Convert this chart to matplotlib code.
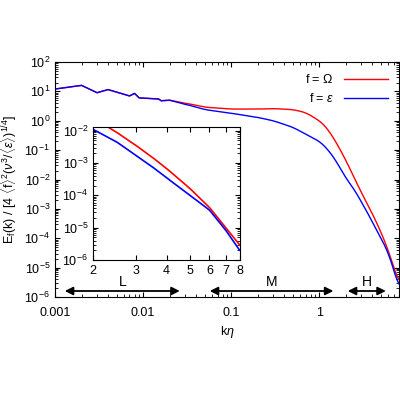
import numpy as np
import matplotlib
matplotlib.use("Agg")
import matplotlib.pyplot as plt

plt.rcParams['font.family'] = ['Liberation Sans', 'DejaVu Sans']
plt.rcParams['mathtext.fontset'] = 'custom'
plt.rcParams['mathtext.rm'] = 'Liberation Sans'
plt.rcParams['mathtext.it'] = 'Liberation Sans:italic'

# main spectrum
k_main = [0.001, 0.002, 0.003, 0.004, 0.007, 0.008, 0.009, 0.015, 0.016, 0.02, 0.03,
          0.05, 0.1, 0.2, 0.3, 0.5, 0.7, 1.0, 1.2, 1.5,
          2.0, 2.5, 3.0, 3.5, 4.0, 4.5, 5.0, 6.0, 7.0, 8.0]
e_omega = [12, 16, 9, 11.5, 7, 8.5, 6, 5.5, 4.8, 5.0, 4.0,
           2.9, 2.5, 2.5, 2.6, 2.4, 1.9, 1.0, 0.6, 0.22,
           4.5e-2, 1.1e-2, 3.5e-3, 1.5e-3, 6.8e-4, 3.2e-4, 1.6e-4, 4.2e-5, 1.0e-5, 2.8e-6]
e_eps = [12, 16, 9, 11.5, 7, 8.5, 6, 5.5, 4.8, 5.0, 3.7,
         2.4, 1.8, 1.3, 1.0, 0.6, 0.35, 0.2, 0.12, 0.05,
         1.1e-2, 4.5e-3, 1.7e-3, 7.6e-4, 3.5e-4, 1.8e-4, 1.0e-4, 3.5e-5, 8.3e-6, 1.9e-6]

# inset (2 < k eta < 8)
k_in = [2, 2.5, 3, 3.5, 4, 4.5, 5, 6, 7, 8]
in_omega = [2.5e-2, 8.9e-3, 3.5e-3, 1.5e-3, 6.8e-4, 3.2e-4, 1.6e-4, 4.2e-5, 1.0e-5, 2.8e-6]
in_eps = [1.1e-2, 4.5e-3, 1.7e-3, 7.6e-4, 3.5e-4, 1.8e-4, 1.0e-4, 3.5e-5, 8.3e-6, 1.9e-6]


def smooth(x, y, n=400, w=9):
    # denser log-log polyline through the read points so the curve looks smooth
    lx, ly = np.log10(x), np.log10(y)
    xs = np.linspace(lx[0], lx[-1], n)
    ys = np.interp(xs, lx, ly)
    kern = np.ones(w) / w
    ys_s = np.convolve(np.pad(ys, w // 2, mode='edge'), kern, mode='valid')
    return 10**xs, 10**ys_s


def main_curve(y, split=10):
    # keep the noisy low-k part as read, smooth the tail
    xs, ys = smooth(k_main[split:], y[split:], n=500, w=25)
    return np.r_[k_main[:split], xs], np.r_[y[:split], ys]


fig = plt.figure(figsize=(4, 4), dpi=100)
ax = fig.add_axes([0.1375, 0.2575, 0.86, 0.5875])

ax.plot(*main_curve(e_omega), color='red', lw=1, label=r'f = $\Omega$')
ax.plot(*main_curve(e_eps), color='blue', lw=1, label=r'f = $\epsilon$')
ax.set_xscale('log')
ax.set_yscale('log')
ax.set_xlim(0.001, 8)
ax.set_ylim(1e-6, 1e2)
ax.set_yticks([10.0**p for p in range(-6, 3)])
ax.set_xticks([0.001, 0.01, 0.1, 1])
ax.set_xticklabels(['0.001', '0.01', '0.1', '1'])
ax.tick_params(which='both', direction='in', top=True, right=True, labelsize=9)
ax.tick_params(axis='x', pad=7)
ax.set_xlabel(r'k$\eta$', fontsize=9)
ax.set_ylabel(r'E$_{\rm f}$(k) / [4 $\langle$f$\rangle^2$($\nu^3$/$\langle\epsilon\rangle$)$^{1/4}$]', fontsize=9)
ax.legend(loc='upper right', frameon=False, fontsize=9, markerfirst=False, handlelength=3.5)

arrow_y = 1.6e-6
for x0, x1, lab in [(0.0012, 0.028, 'L'), (0.053, 1.55, 'M'), (1.95, 6.1, 'H')]:
    ax.annotate('', xy=(x0, arrow_y), xytext=(x1, arrow_y),
                arrowprops=dict(arrowstyle='<|-|>', color='black', lw=1.3, mutation_scale=12))
    ax.text(np.sqrt(x0 * x1), 3.2e-6, lab, ha='center', va='center', fontsize=10)

ins = fig.add_axes([0.2325, 0.35, 0.3675, 0.3325])
ins.plot(*smooth(k_in, in_omega), color='red', lw=1.2)
ins.plot(*smooth(k_in, in_eps), color='blue', lw=1.2)
ins.set_xscale('log')
ins.set_yscale('log')
ins.set_xlim(2, 8)
ins.set_ylim(1e-6, 1.3e-2)
ins.set_xticks([2, 3, 4, 5, 6, 7, 8])
ins.set_xticklabels(['2', '3', '4', '5', '6', '7', '8'])
ins.xaxis.set_minor_locator(matplotlib.ticker.NullLocator())
ins.tick_params(which='both', direction='in', top=True, right=True, labelsize=9)

fig.savefig('out.png', dpi=100)
